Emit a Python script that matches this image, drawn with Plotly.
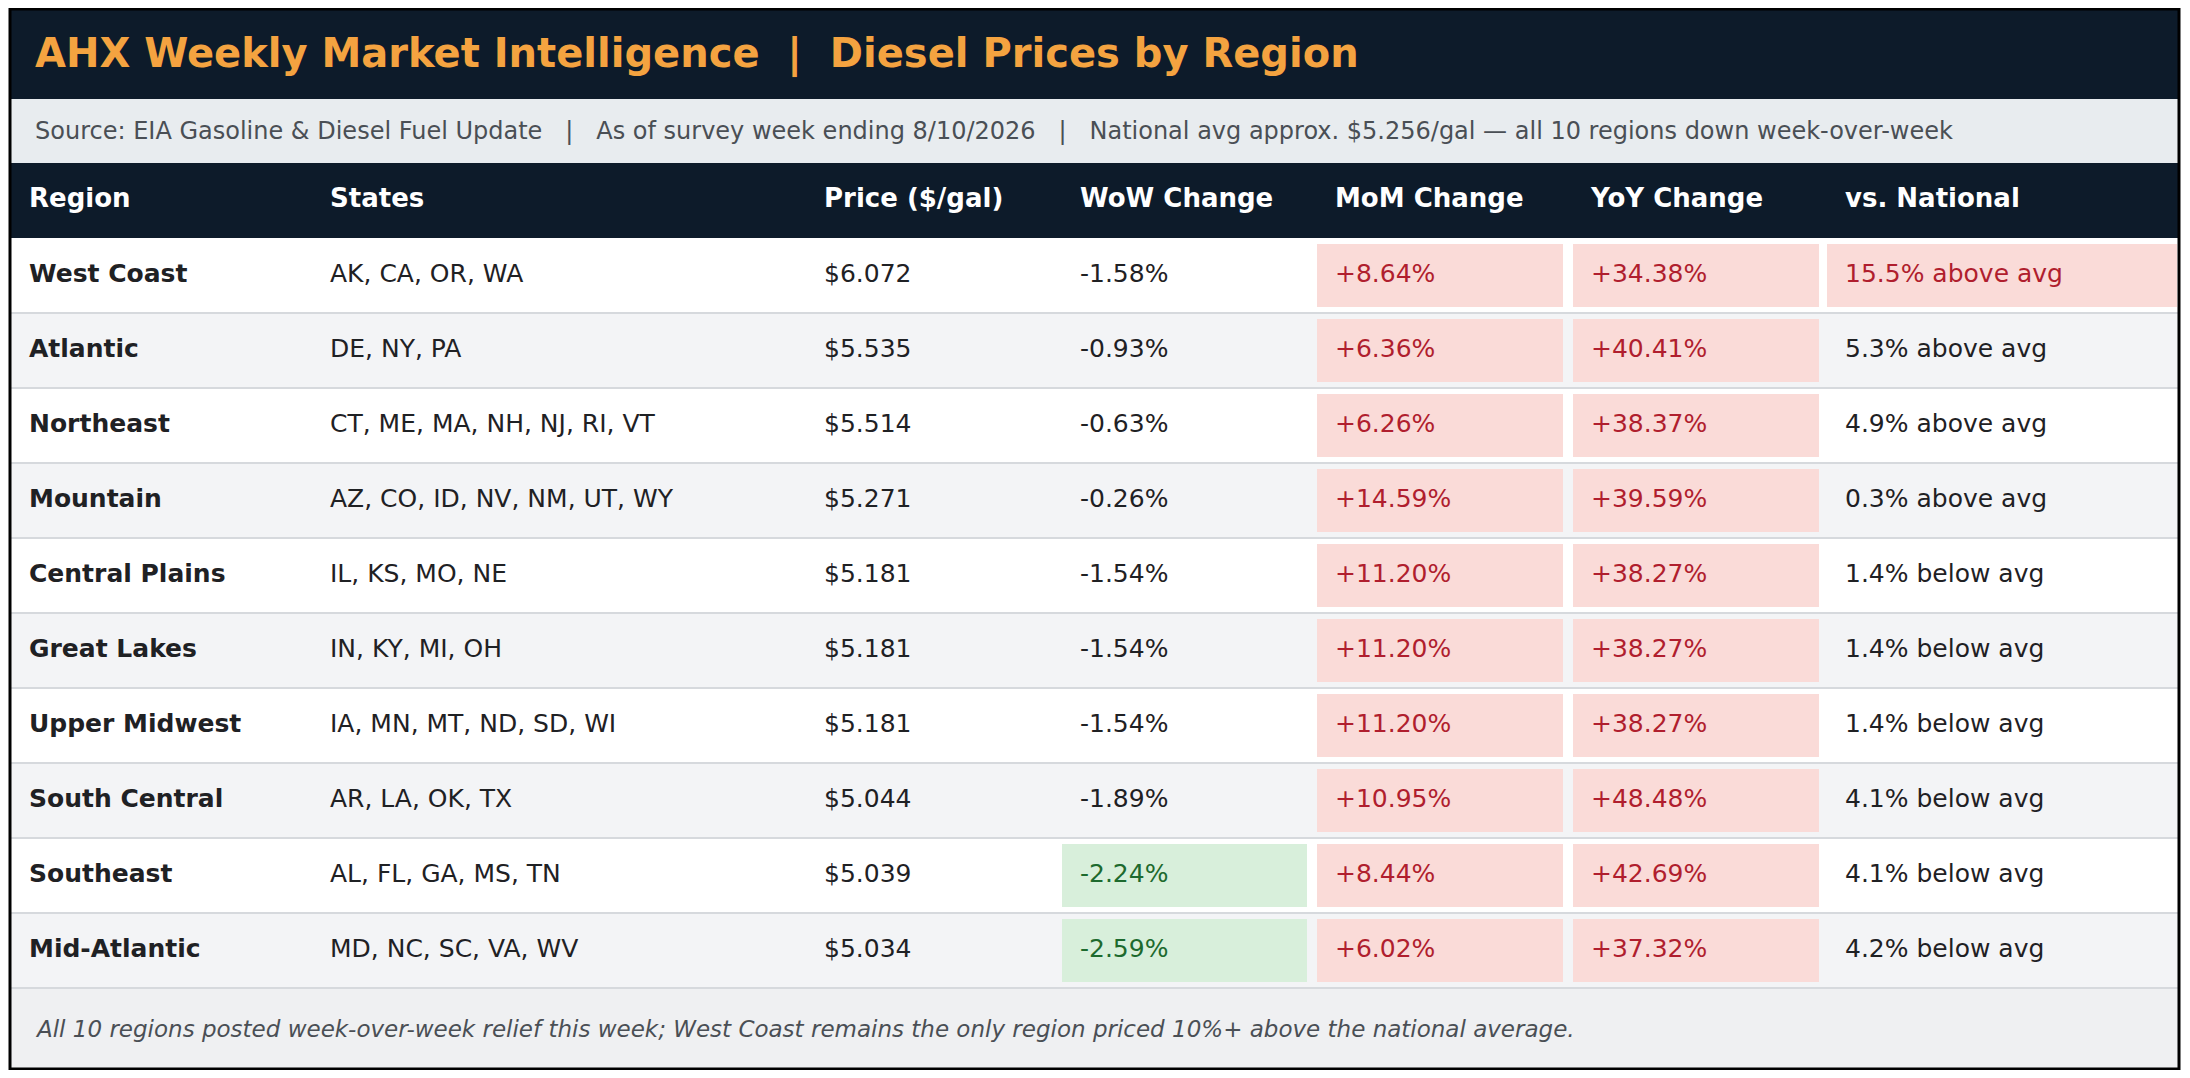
import plotly.graph_objects as go

# ---- data ----
title = "AHX Weekly Market Intelligence  |  Diesel Prices by Region"
subtitle = ("Source: EIA Gasoline & Diesel Fuel Update   |   As of survey week ending 8/10/2026   |   "
            "National avg approx. $5.256/gal \u2014 all 10 regions down week-over-week")
footer = ("All 10 regions posted week-over-week relief this week; West Coast remains the only region "
          "priced 10%+ above the national average.")
headers = ["Region", "States", "Price ($/gal)", "WoW Change", "MoM Change", "YoY Change", "vs. National"]
regions = ["West Coast", "Atlantic", "Northeast", "Mountain", "Central Plains", "Great Lakes",
           "Upper Midwest", "South Central", "Southeast", "Mid-Atlantic"]
states = ["AK, CA, OR, WA", "DE, NY, PA", "CT, ME, MA, NH, NJ, RI, VT", "AZ, CO, ID, NV, NM, UT, WY",
          "IL, KS, MO, NE", "IN, KY, MI, OH", "IA, MN, MT, ND, SD, WI", "AR, LA, OK, TX",
          "AL, FL, GA, MS, TN", "MD, NC, SC, VA, WV"]
price = [6.072, 5.535, 5.514, 5.271, 5.181, 5.181, 5.181, 5.044, 5.039, 5.034]
wow = [-1.58, -0.93, -0.63, -0.26, -1.54, -1.54, -1.54, -1.89, -2.24, -2.59]
mom = [8.64, 6.36, 6.26, 14.59, 11.20, 11.20, 11.20, 10.95, 8.44, 6.02]
yoy = [34.38, 40.41, 38.37, 39.59, 38.27, 38.27, 38.27, 48.48, 42.69, 37.32]
vs_nat = ["15.5% above avg", "5.3% above avg", "4.9% above avg", "0.3% above avg", "1.4% below avg",
          "1.4% below avg", "1.4% below avg", "4.1% below avg", "4.1% below avg", "4.2% below avg"]

# ---- layout (pixel coordinates of the page) ----
W, H = 2190, 1078
PAD = 8  # page body margin
L, R = 10, 2179
col_x = [29, 330, 824, 1080, 1335, 1591, 1845]
cell_l = [None, None, None, 1062, 1317, 1573, 1827]
cell_r = [None, None, None, 1307, 1563, 1819, 2177]
top_title, top_sub, top_head, top_rows = 9, 99, 163, 238
row_h = 75
bottom = 1069
top_foot = top_rows + row_h * len(regions)

DARK = "#0d1b2a"
RED_BG, RED_TX = "#fadbd8", "#b01e2e"
GRN_BG, GRN_TX = "#d8efdb", "#1d6a2e"
TXT = "#1f2124"
FONT = "DejaVu Sans"

shapes = []
def rect(x0, y0, x1, y1, color):
    shapes.append(dict(type="rect", xref="x", yref="y", x0=x0, y0=y0, x1=x1, y1=y1,
                       fillcolor=color, line=dict(width=0), layer="below"))

rect(L, top_title, R, top_sub, DARK)
rect(L, top_sub, R, top_head, "#e8ecef")
rect(L, top_head, R, top_rows, DARK)
rect(L, top_foot, R, bottom, "#eff0f2")

fig = go.Figure()
xs, ys, texts, colors = [], [], [], []
for i in range(len(regions)):
    y0 = top_rows + i * row_h
    rect(L, y0, R, y0 + row_h, "#ffffff" if i % 2 == 0 else "#f3f4f6")
    shapes.append(dict(type="line", xref="x", yref="y", x0=L, x1=R, y0=y0 + row_h, y1=y0 + row_h,
                       line=dict(color="#d6d9dd", width=2)))
    yc = y0 + row_h / 2
    vals = [f"<b>{regions[i]}</b>", states[i], f"${price[i]:.3f}", f"{wow[i]:+.2f}%",
            f"{mom[i]:+.2f}%", f"{yoy[i]:+.2f}%", vs_nat[i]]
    cols = [TXT] * 7
    if wow[i] <= -2.0:
        rect(cell_l[3], y0 + 6, cell_r[3], y0 + row_h - 6, GRN_BG)
        cols[3] = GRN_TX
    if mom[i] > 0:
        rect(cell_l[4], y0 + 6, cell_r[4], y0 + row_h - 6, RED_BG)
        cols[4] = RED_TX
    if yoy[i] > 0:
        rect(cell_l[5], y0 + 6, cell_r[5], y0 + row_h - 6, RED_BG)
        cols[5] = RED_TX
    if "above" in vs_nat[i] and float(vs_nat[i].split("%")[0]) >= 10:
        rect(cell_l[6], y0 + 6, cell_r[6], y0 + row_h - 6, RED_BG)
        cols[6] = RED_TX
    for j, v in enumerate(vals):
        xs.append(col_x[j]); ys.append(yc); texts.append(v); colors.append(cols[j])

fig.add_trace(go.Scatter(x=xs, y=ys, text=texts, mode="text", textposition="middle right",
                         textfont=dict(family=FONT, size=25, color=colors), hoverinfo="skip"))

hy = (top_head + top_rows) / 2
fig.add_trace(go.Scatter(x=col_x, y=[hy] * len(headers), text=[f"<b>{h}</b>" for h in headers],
                         mode="text", textposition="middle right",
                         textfont=dict(family=FONT, size=26, color="#ffffff"), hoverinfo="skip"))

annotations = [
    dict(x=33, y=(top_title + top_sub) / 2, text=f"<b>{title}</b>", showarrow=False, xanchor="left",
         font=dict(family=FONT, size=40, color="#f4a340")),
    dict(x=33, y=(top_sub + top_head) / 2, text=subtitle, showarrow=False, xanchor="left",
         font=dict(family=FONT, size=24, color="#4a4f55")),
    dict(x=33, y=(top_foot + bottom) / 2, text=f"<i>{footer}</i>", showarrow=False, xanchor="left",
         font=dict(family=FONT, size=23, color="#4a4f55")),
]
for a in annotations:
    a.update(xref="x", yref="y")

shapes.append(dict(type="rect", xref="x", yref="y", x0=L, y0=top_title, x1=R, y1=bottom,
                   line=dict(color="#000000", width=3), fillcolor="rgba(0,0,0,0)", layer="above"))

fig.update_layout(width=W - 2 * PAD, height=H - 2 * PAD, margin=dict(l=0, r=0, t=0, b=0),
                  paper_bgcolor="#ffffff", plot_bgcolor="#ffffff", showlegend=False,
                  shapes=shapes, annotations=annotations,
                  xaxis=dict(range=[PAD, W - PAD], visible=False, fixedrange=True),
                  yaxis=dict(range=[H - PAD, PAD], visible=False, fixedrange=True))

fig.write_html("out.html")
